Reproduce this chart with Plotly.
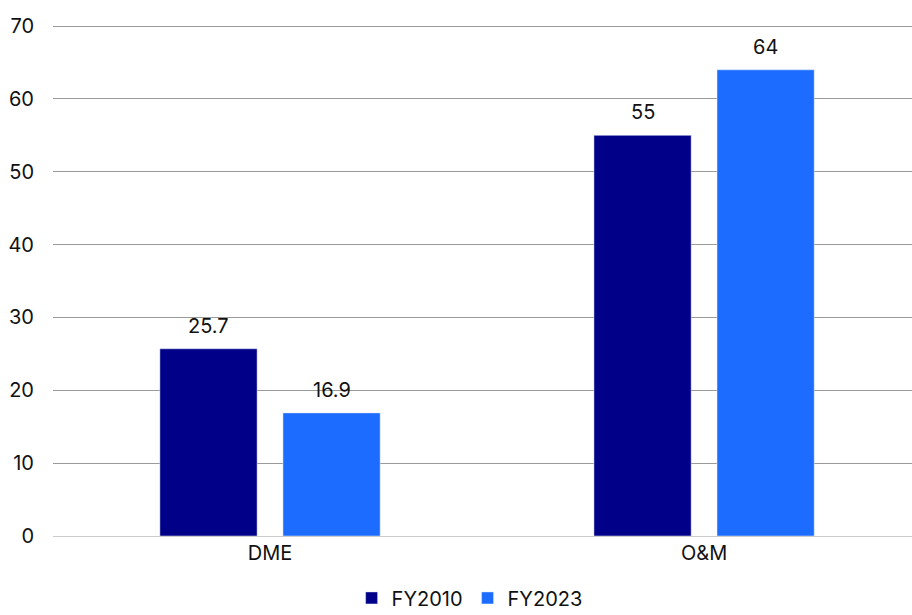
import plotly.graph_objects as go

categories = ["DME", "O&M"]
fy2010 = [25.7, 55]
fy2023 = [16.9, 64]
fy2010_labels = ["25.7", "55"]
fy2023_labels = ["16.9", "64"]
y_ticks = [0, 10, 20, 30, 40, 50, 60, 70]

FONT = "Inter, Roboto, sans-serif"
C1, C2 = "#000088", "#1c6cff"

fig = go.Figure()
fig.add_trace(go.Bar(name="FY2010", x=categories, y=fy2010, marker_color=C1))
fig.add_trace(go.Bar(name="FY2023", x=categories, y=fy2023, marker_color=C2))

# data labels as annotations (offset above bar tops)
bargap, groupgap = 0.433, 0.21
slot = (1 - bargap) / 2
for i, cat in enumerate(categories):
    for j, (vals, labs) in enumerate([(fy2010, fy2010_labels), (fy2023, fy2023_labels)]):
        xc = i - (1 - bargap) / 2 + slot * (j + 0.5)
        fig.add_annotation(x=xc, y=vals[i], text=labs[i], showarrow=False,
                           yanchor="bottom", yshift=9, xref="x", yref="y",
                           font=dict(size=20, color="#111111"))

fig.update_layout(
    width=912, height=615,
    margin=dict(l=53, r=0, t=25, b=79, autoexpand=False),
    paper_bgcolor="white", plot_bgcolor="white",
    barmode="group", bargap=bargap, bargroupgap=groupgap,
    font=dict(family=FONT, size=20, color="#111111"),
    showlegend=True,
    legend=dict(orientation="h", x=0.485, xanchor="center", y=-0.083, yanchor="top",
                font=dict(size=20), itemwidth=30, traceorder="normal"),
    xaxis=dict(type="category", range=[-0.5, 1.479],
               showgrid=False, showline=False, ticks="", zeroline=False, automargin=False,
               ticklabelstandoff=3, tickfont=dict(size=20)),
    yaxis=dict(range=[0, 70.15], tickvals=y_ticks, showgrid=True, gridcolor="#9a9a9a",
               gridwidth=1, zeroline=True, zerolinecolor="#cccccc", zerolinewidth=1,
               automargin=False,
               showline=False, ticks="", ticklabelstandoff=18, tickfont=dict(size=20)),
)

fig.write_html("out.html")
